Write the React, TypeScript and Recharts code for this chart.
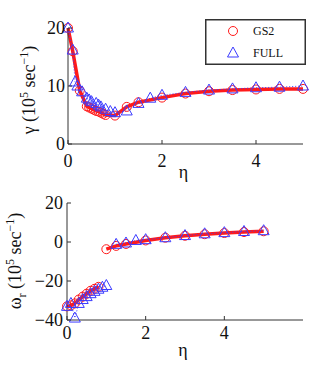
import React from 'react';
import { ComposedChart, Line, XAxis, YAxis } from 'recharts';

// series names
const SERIES = ['GS2', 'FULL'];

// growth rate gamma, top panel
const gammaGs2X = [0, 0.1, 0.25, 0.4, 0.45, 0.5, 0.55, 0.6, 0.65, 0.7, 0.75, 0.8, 1.0, 1.25, 1.5, 2, 2.5, 3, 3.5, 4, 4.5, 5];
const gammaGs2Y = [20, 16, 9.2, 6.5, 6.3, 6.1, 5.9, 5.7, 5.6, 5.4, 5.2, 5.0, 4.9, 6.4, 7.2, 8.0, 8.7, 9.1, 9.3, 9.4, 9.5, 9.5];
const gammaFullX = [0, 0.1, 0.15, 0.2, 0.3, 0.4, 0.45, 0.5, 0.6, 0.65, 0.7, 0.8, 0.9, 1.0, 1.25, 1.5, 1.75, 2, 2.5, 3, 3.5, 4, 4.5, 5];
const gammaFullY = [20, 16.2, 10.7, 10.0, 9.0, 7.9, 7.6, 7.3, 7.0, 6.7, 6.4, 6.0, 5.6, 5.4, 5.7, 7.0, 7.9, 8.4, 8.9, 9.3, 9.5, 9.7, 9.8, 10.0];

// real frequency omega_r, bottom panel (two branches)
const omegaGs2LowX = [0, 0.1, 0.2, 0.3, 0.4, 0.5, 0.6, 0.7, 0.8];
const omegaGs2LowY = [-33, -32.5, -31.5, -29.5, -28, -26.5, -25, -24, -23];
const omegaGs2HighX = [1, 1.25, 1.5, 2, 2.5, 3, 3.5, 4, 4.5, 5];
const omegaGs2HighY = [-3.7, -2, -1, 0.8, 2.2, 3.2, 4, 4.6, 5.1, 5.5];
const omegaFullLowX = [0, 0.1, 0.2, 0.3, 0.4, 0.5, 0.6, 0.7, 0.8, 0.9, 1.0];
const omegaFullLowY = [-33, -31.5, -39, -31.5, -29.5, -28, -26.5, -25.3, -24.2, -23.2, -22.3];
const omegaFullHighX = [1.25, 1.5, 1.75, 2, 2.5, 3, 3.5, 4, 4.5, 5];
const omegaFullHighY = [-1.2, -0.5, 0.8, 1.2, 2.2, 3.3, 4.2, 4.8, 5.4, 5.8];

const xTicks = [0, 2, 4];
const gammaTicks = [0, 10, 20];
const omegaTicks = [-40, -20, 0, 20];

const zip = (xs: number[], ys: number[]) => xs.map((x, i) => ({ x, y: ys[i] }));

const RED = '#ff1a1a';
const BLUE = '#3b3bff';
const AXIS = '#333';
const FONT = 'Liberation Serif, Times New Roman, serif';

const circleDot = (p: any) => (
  <circle key={`c${p.index}`} cx={p.cx} cy={p.cy} r={4.5} fill="none" stroke={RED} strokeWidth={1} />
);
const triDot = (p: any) => (
  <polygon
    key={`t${p.index}`}
    points={`${p.cx},${p.cy - 6} ${p.cx - 5.5},${p.cy + 4} ${p.cx + 5.5},${p.cy + 4}`}
    fill="none"
    stroke={BLUE}
    strokeWidth={1}
  />
);

const fmt = (v: number) => (v < 0 ? `\u2212${Math.abs(v)}` : `${v}`);

const xTick = (m: number) => (p: any) => (
  <g>
    <line x1={p.x} x2={p.x} y1={p.y - m} y2={p.y - m - 4} stroke={AXIS} />
    <text x={p.x} y={p.y} dy="0.71em" textAnchor="middle" fontFamily={FONT} fontSize={18} fill="#111">
      {fmt(p.payload.value)}
    </text>
  </g>
);
const yTick = (m: number) => (p: any) => (
  <g>
    <line x1={p.x + m} x2={p.x + m + 4} y1={p.y} y2={p.y} stroke={AXIS} />
    <text x={p.x} y={p.y} dy="0.355em" textAnchor="end" fontFamily={FONT} fontSize={18} fill="#111">
      {fmt(p.payload.value)}
    </text>
  </g>
);

const etaLabel = (off: number) => ({ viewBox }: any) => (
  <text x={viewBox.x + viewBox.width / 2 - 2} y={viewBox.y + off} textAnchor="middle" fontFamily={FONT} fontSize={18} fill="#111">
    η
  </text>
);

const unitLabel = (bx: number, cy: number, sym: string, sub?: string) => () => (
  <text transform={`rotate(-90, ${bx}, ${cy})`} x={bx} y={cy} textAnchor="middle" fontFamily={FONT} fontSize={18} fill="#111">
    <tspan>{sym}</tspan>
    {sub && <tspan fontSize={12} dy={5}>{sub}</tspan>}
    <tspan dy={sub ? -5 : 0}> (10</tspan>
    <tspan fontSize={12} dy={-7}>5</tspan>
    <tspan dy={7}> sec</tspan>
    <tspan fontSize={12} dy={-7}>{'\u22121'}</tspan>
    <tspan dy={7}>)</tspan>
  </text>
);

const LegendBox = () => (
  <svg width={101} height={46} style={{ position: 'absolute', left: 205, top: 19 }}>
    <rect x={0.75} y={0.75} width={99.5} height={44.5} fill="#fff" stroke={AXIS} strokeWidth={1.5} />
    <circle cx={28} cy={12} r={4.5} fill="none" stroke={RED} />
    <text x={48} y={16} fontFamily={FONT} fontSize={12} fill="#111">{SERIES[0]}</text>
    <polygon points="28,28 22.5,38 33.5,38" fill="none" stroke={BLUE} />
    <text x={48} y={38} fontFamily={FONT} fontSize={12} fill="#111">{SERIES[1]}</text>
  </svg>
);

export default function App() {
  return (
    <div style={{ position: 'absolute', left: 0, top: 0, width: 335, height: 371, background: '#fff' }}>
      <div style={{ position: 'absolute', left: 0, top: 0 }}>
        <ComposedChart width={335} height={185} margin={{ top: 28, right: 32, bottom: 0, left: 0 }}>
          <XAxis
            type="number"
            dataKey="x"
            domain={[0, 5]}
            ticks={xTicks}
            stroke={AXIS}
            tickSize={0}
            tickMargin={10}
            tick={xTick(10)}
            height={41}
            label={{ content: etaLabel(34) }}
          />
          <YAxis
            type="number"
            dataKey="y"
            domain={[0, 20]}
            ticks={gammaTicks}
            stroke={AXIS}
            tickSize={0}
            tickMargin={3}
            tick={yTick(3)}
            width={68}
            label={{ content: unitLabel(35, 90, 'γ') }}
          />
          <Line data={zip(gammaGs2X, gammaGs2Y)} dataKey="y" name={SERIES[0]} stroke={RED} strokeWidth={3.5} dot={false} isAnimationActive={false} />
          <Line data={zip(gammaGs2X, gammaGs2Y)} dataKey="y" stroke="none" dot={circleDot} isAnimationActive={false} />
          <Line data={zip(gammaFullX, gammaFullY)} dataKey="y" name={SERIES[1]} stroke={BLUE} strokeWidth={1} strokeDasharray="1 2" dot={triDot} isAnimationActive={false} />
        </ComposedChart>
      </div>
      <LegendBox />
      <div style={{ position: 'absolute', left: 0, top: 185 }}>
        <ComposedChart width={335} height={186} margin={{ top: 18, right: 32, bottom: 0, left: 0 }}>
          <XAxis
            type="number"
            dataKey="x"
            domain={[0, 6]}
            ticks={xTicks}
            stroke={AXIS}
            tickSize={0}
            tickMargin={6}
            tick={xTick(6)}
            height={51}
            label={{ content: etaLabel(36) }}
          />
          <YAxis
            type="number"
            dataKey="y"
            domain={[-40, 20]}
            ticks={omegaTicks}
            stroke={AXIS}
            tickSize={0}
            tickMargin={4}
            tick={yTick(4)}
            width={67}
            label={{ content: unitLabel(21, 76, 'ω', 'r') }}
          />
          <Line data={zip(omegaGs2LowX, omegaGs2LowY)} dataKey="y" stroke={RED} strokeWidth={3.5} dot={false} isAnimationActive={false} />
          <Line data={zip(omegaGs2HighX, omegaGs2HighY)} dataKey="y" stroke={RED} strokeWidth={3.5} dot={false} isAnimationActive={false} />
          <Line data={zip(omegaGs2LowX, omegaGs2LowY)} dataKey="y" stroke="none" dot={circleDot} isAnimationActive={false} />
          <Line data={zip(omegaGs2HighX, omegaGs2HighY)} dataKey="y" stroke="none" dot={circleDot} isAnimationActive={false} />
          <Line data={zip(omegaFullLowX, omegaFullLowY)} dataKey="y" stroke={BLUE} strokeWidth={1} strokeDasharray="1 2" dot={triDot} isAnimationActive={false} />
          <Line data={zip(omegaFullHighX, omegaFullHighY)} dataKey="y" stroke={BLUE} strokeWidth={1} strokeDasharray="1 2" dot={triDot} isAnimationActive={false} />
        </ComposedChart>
      </div>
    </div>
  );
}
